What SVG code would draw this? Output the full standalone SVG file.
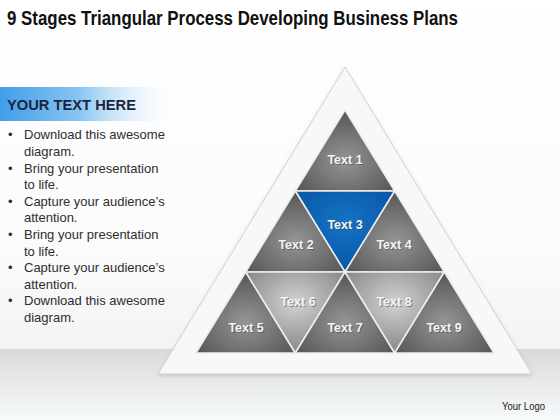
<svg xmlns="http://www.w3.org/2000/svg" width="560" height="420" viewBox="0 0 560 420">
<defs>
<style>
.title{font-family:"Liberation Sans",Arial,sans-serif;font-weight:bold;font-size:20.5px;fill:#111}
.hdr{font-family:"Liberation Sans",Arial,sans-serif;font-weight:bold;font-size:15.5px;fill:#1c2540}
.bl{font-family:"Liberation Sans",Arial,sans-serif;font-size:13px;fill:#2e2e2e}
.lbl{font-family:"Liberation Sans",Arial,sans-serif;font-weight:bold;font-size:12.5px;fill:#f4f4f4;text-anchor:middle}
.lsh{font-family:"Liberation Sans",Arial,sans-serif;font-weight:bold;font-size:12.5px;fill:#3a3a3a;fill-opacity:0.5;text-anchor:middle}
.tri{stroke:#eeeeee;stroke-width:1.5;stroke-linejoin:round}
.dk{fill:url(#gDark)}
.lt{fill:url(#gLight)}
.bu{fill:url(#gBlue)}
</style>
<linearGradient id="bg" x1="0" y1="0" x2="0" y2="1">
<stop offset="0" stop-color="#ffffff"/>
<stop offset="0.6" stop-color="#fbfbfb"/>
<stop offset="1" stop-color="#eeeeee"/>
</linearGradient>
<linearGradient id="band" x1="0" y1="0" x2="0" y2="1">
<stop offset="0" stop-color="#d9d9d9"/>
<stop offset="0.6" stop-color="#eceeee"/>
<stop offset="1" stop-color="#f6fafa"/>
</linearGradient>
<linearGradient id="hdrG" x1="0" y1="0" x2="1" y2="0">
<stop offset="0" stop-color="#3f9fe9"/>
<stop offset="0.45" stop-color="#8cc6f2"/>
<stop offset="1" stop-color="#ffffff" stop-opacity="0"/>
</linearGradient>
<radialGradient id="gDark" cx="0.5" cy="0.62" r="0.6">
<stop offset="0" stop-color="#959595"/>
<stop offset="1" stop-color="#575757"/>
</radialGradient>
<radialGradient id="gLight" cx="0.5" cy="0.38" r="0.6">
<stop offset="0" stop-color="#d2d2d2"/>
<stop offset="1" stop-color="#8a8a8a"/>
</radialGradient>
<radialGradient id="gBlue" cx="0.5" cy="0.38" r="0.6">
<stop offset="0" stop-color="#1672c4"/>
<stop offset="1" stop-color="#0858a6"/>
</radialGradient>
<filter id="sh" x="-10%" y="-10%" width="120%" height="125%">
<feGaussianBlur stdDeviation="2"/>
</filter>
</defs>

<rect x="0" y="0" width="560" height="420" fill="url(#bg)"/>
<rect x="0" y="349" width="560" height="71" fill="url(#band)"/>

<text class="title" x="7" y="25" textLength="451" lengthAdjust="spacingAndGlyphs">9 Stages Triangular Process Developing Business Plans</text>

<g id="textpanel">
<rect x="0" y="87" width="180" height="34" fill="url(#hdrG)"/>
<text class="hdr" x="7" y="110" textLength="129" lengthAdjust="spacingAndGlyphs">YOUR TEXT HERE</text>
<g class="bl">
<text x="8" y="139.3">•</text><text x="24" y="139.3">Download this awesome</text>
<text x="24" y="155.9">diagram.</text>
<text x="8" y="172.5">•</text><text x="24" y="172.5">Bring your presentation</text>
<text x="24" y="189.1">to life.</text>
<text x="8" y="205.7">•</text><text x="24" y="205.7">Capture your audience’s</text>
<text x="24" y="222.3">attention.</text>
<text x="8" y="238.9">•</text><text x="24" y="238.9">Bring your presentation</text>
<text x="24" y="255.5">to life.</text>
<text x="8" y="272.1">•</text><text x="24" y="272.1">Capture your audience’s</text>
<text x="24" y="288.7">attention.</text>
<text x="8" y="305.3">•</text><text x="24" y="305.3">Download this awesome</text>
<text x="24" y="322">diagram.</text>
</g>
</g>

<g id="frame">
<polygon points="345,69 158,376 532,376" fill="#9a9a9a" fill-opacity="0.45" filter="url(#sh)"/>
<polygon points="345,67 158,374 532,374" fill="#f8f8f8" stroke="#d2d2d2" stroke-width="1"/>
</g>

<g id="connectors"/>

<g id="t1"><polygon class="tri dk" points="345,110 295.3,191 394.7,191"/><text class="lsh" x="346" y="165">Text 1</text><text class="lbl" x="345" y="164">Text 1</text></g>
<g id="t3"><polygon class="tri bu" points="295.3,191 394.7,191 345,272"/><text class="lsh" x="346" y="230">Text 3</text><text class="lbl" x="345" y="229">Text 3</text></g>
<g id="t2"><polygon class="tri dk" points="295.3,191 245.7,272 345,272"/><text class="lsh" x="297" y="250">Text 2</text><text class="lbl" x="296" y="249">Text 2</text></g>
<g id="t4"><polygon class="tri dk" points="394.7,191 345,272 444.3,272"/><text class="lsh" x="395" y="250">Text 4</text><text class="lbl" x="394" y="249">Text 4</text></g>
<g id="t5"><polygon class="tri dk" points="245.7,272 196,353 295.3,353"/><text class="lsh" x="247" y="333">Text 5</text><text class="lbl" x="246" y="332">Text 5</text></g>
<g id="t6"><polygon class="tri lt" points="245.7,272 345,272 295.3,353"/><text class="lsh" x="299" y="307">Text 6</text><text class="lbl" x="298" y="306">Text 6</text></g>
<g id="t7"><polygon class="tri dk" points="345,272 295.3,353 394.7,353"/><text class="lsh" x="346" y="333">Text 7</text><text class="lbl" x="345" y="332">Text 7</text></g>
<g id="t8"><polygon class="tri lt" points="345,272 444.3,272 394.7,353"/><text class="lsh" x="395" y="307">Text 8</text><text class="lbl" x="394" y="306">Text 8</text></g>
<g id="t9"><polygon class="tri dk" points="444.3,272 394.7,353 494,353"/><text class="lsh" x="445" y="333">Text 9</text><text class="lbl" x="444" y="332">Text 9</text></g>

<text x="502" y="410" font-family="'Liberation Sans',Arial,sans-serif" font-size="10" fill="#222" textLength="43" lengthAdjust="spacingAndGlyphs">Your Logo</text>
</svg>
